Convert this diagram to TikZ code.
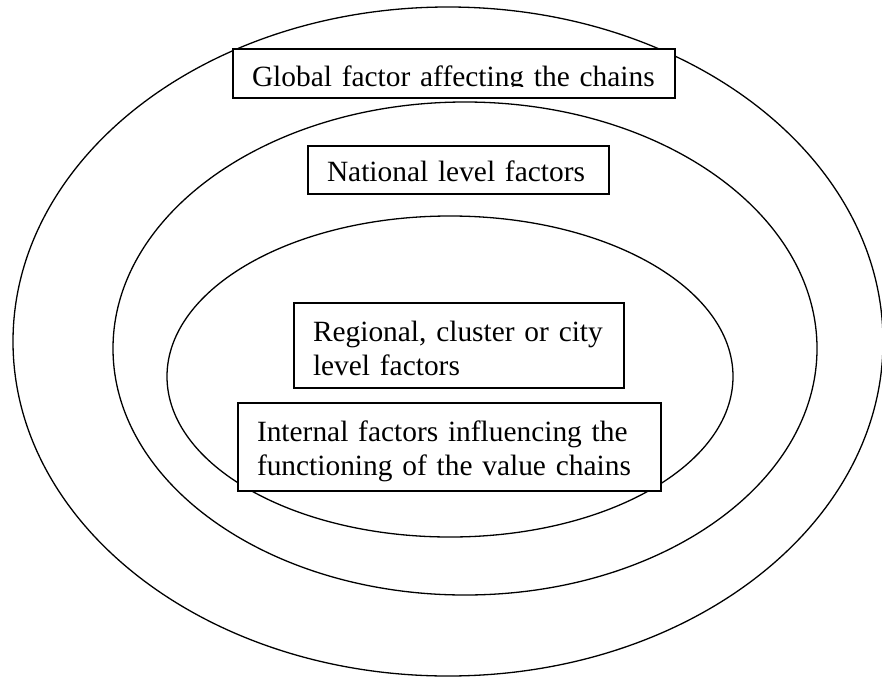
\documentclass[tikz,border=0pt]{standalone}
\usepackage{fontspec}
\setmainfont{Liberation Serif}
\usepackage{trimclip}
\usepackage{tikz}

\begin{document}
\begin{tikzpicture}[
        x=1pt, y=-1pt,
        ring/.style={draw, line width=1.3pt},
        factorbox/.style={rectangle, draw, fill=white, line width=1.6pt, anchor=north west, outer sep=0pt, inner xsep=19pt, inner ysep=0pt, align=left, font=\fontsize{29.4}{34}\selectfont}
    ]
        \useasboundingbox (0,0) rectangle (882,677);

        % Rings
        \draw[ring] (448,341.5) ellipse [x radius=435, y radius=334.5];
        \draw[ring] (465,348.5) ellipse [x radius=352, y radius=246.5];
        \draw[ring] (450,376.5) ellipse [x radius=283, y radius=160.5];

        % Factor boxes
        \node[factorbox, text width=404pt, text height=37pt, text depth=12pt] (global) at (233,49) {\clipbox{0pt 6pt 0pt 0pt}{Global factor affecting the chains}};
        \node[factorbox, text width=263pt, text height=35.7pt, text depth=12.3pt] (national) at (308,146) {\mbox{National level factors}};
        \node[factorbox, text width=292pt, text height=38.7pt, text depth=46.3pt] (regional) at (294,303) {\mbox{Regional, cluster or city}\\\mbox{level factors}};
        \node[factorbox, text width=385pt, text height=38.7pt, text depth=49.3pt] (internal) at (238,403) {\mbox{Internal factors influencing the}\\\mbox{functioning of the value chains}};

    \end{tikzpicture}
\end{document}
